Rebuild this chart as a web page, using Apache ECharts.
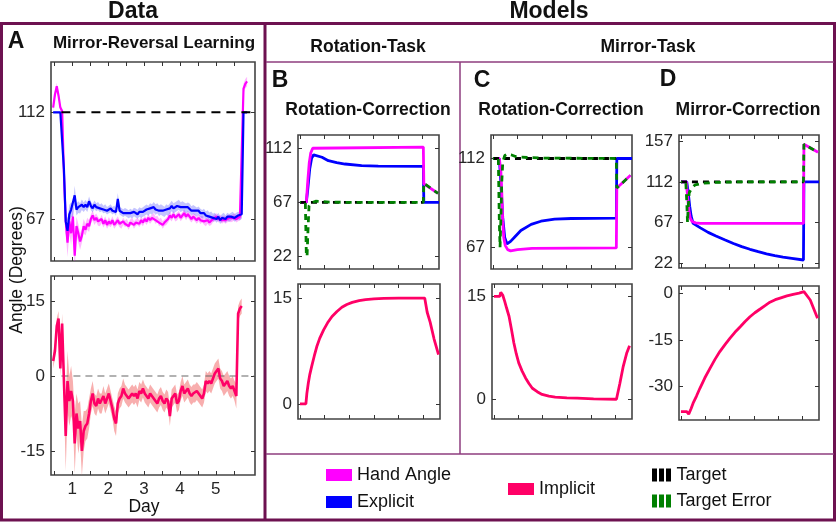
<!DOCTYPE html>
<html><head><meta charset="utf-8">
<script src="https://cdn.jsdelivr.net/npm/echarts@6/dist/echarts.min.js"></script>
<style>html,body{margin:0;padding:0;background:#fff}#chart{width:837px;height:522px}</style>
</head><body><div id="chart"></div>
<script>
// ---------- Panel A (data) ----------
const daysA = [0.47,0.52,0.57,0.62,0.67,0.72,0.77,0.82,0.87,0.92,
0.97,1.02,1.07,1.12,1.17,1.22,1.27,1.32,1.37,1.42,
1.47,1.52,1.57,1.62,1.67,1.72,1.77,1.82,1.87,1.92,
1.97,2.02,2.07,2.12,2.17,2.22,2.27,2.32,2.37,2.42,
2.47,2.52,2.57,2.62,2.67,2.72,2.77,2.82,2.87,2.92,
2.97,3.02,3.07,3.12,3.17,3.22,3.27,3.32,3.37,3.42,
3.47,3.52,3.57,3.62,3.67,3.72,3.77,3.82,3.87,3.92,
3.97,4.02,4.07,4.12,4.17,4.22,4.27,4.32,4.37,4.42,
4.47,4.52,4.57,4.62,4.67,4.72,4.77,4.82,4.87,4.92,
4.97,5.02,5.07,5.12,5.17,5.22,5.27,5.32,5.37,5.42,
5.47,5.52,5.57,5.62,5.67,5.72,5.77,5.82,5.87];
const handA = [114,119.5,123,119,114,112.5,86,66,57,66,
61,68,51.5,64,61,57.5,60,64,62.5,65,
64,67,68.5,66.5,67.5,66,65.5,67,65,66.5,
64.5,66,65,66.5,64.5,65.5,66.5,65,64.5,66,
65,65.5,64,65.5,66,64.5,65.5,66,65,66.5,
65.5,67,66,67.5,66.5,67.5,68,66.5,67,65.5,
66,64.5,65.5,66,67,68.5,67.5,69,67.5,68,
69,67.5,68.5,69.5,68,69,68,67,68,67.5,
66.5,67.5,66.5,67,66,65.5,66.5,65.5,66,67,
67.5,68,67,67.5,66.5,67,66.5,67,67.5,67,
67.5,68,67,67.5,68,68.5,122,124,125];
const handErrA = [1.5,1.5,1.5,1.5,1.2,1,3,5,6,5,
5,4,6,4,4,3.5,3,3,2.5,2.5,
2.5,2,2,2,1.8,1.8,1.6,1.8,1.6,1.7,
1.6,1.8,1.5,1.7,1.6,1.5,1.7,1.5,1.6,1.5,
1.4,1.6,1.5,1.4,1.5,1.6,1.4,1.5,1.4,1.6,
1.5,1.4,1.5,1.6,1.5,1.4,1.5,1.6,1.4,1.5,
1.5,1.6,1.4,1.5,1.5,1.6,1.5,1.4,1.5,1.6,
1.5,1.4,1.5,1.6,1.5,1.4,1.5,1.5,1.4,1.5,
1.5,1.4,1.6,1.5,1.4,1.5,1.5,1.4,1.5,1.4,
1.5,1.4,1.5,1.4,1.5,1.4,1.5,1.4,1.5,1.4,
1.5,1.4,1.5,1.4,1.5,1.5,2,2,2];
const explicitA = [112,112,112,112,112,112,88,66,62,69,
71,70.5,77,71,72,71.5,73,72,73,72,
74.5,72.5,71.5,73,72,72.5,71.5,72,71,71.5,
70.5,71,71.5,70.5,71,70,75.5,70.5,70,69.5,
70,69.5,69,69.5,69,70,69.5,69,70,69.5,
70,70.5,71,70.5,71.5,71,72,71,71.5,70.5,
71,70.5,70,71,70.5,71.5,72.5,71.5,72,72.5,
73,72,72.5,72,71.5,72,71.5,70.5,71,70.5,
70,70.5,69.5,69,69.5,68.5,69,68,68.5,67.5,
68,67,68,66.5,67.5,68,67,68,67.5,68,
68.5,67.5,68,68.5,68,69,112,112,112];
const explicitErrA = [0.3,0.3,0.3,0.3,0.3,0.3,4,5,5,4,
3,3,4,2.5,2.5,2.2,2.2,2,2,2,
2,1.8,1.8,1.8,1.7,1.7,1.6,1.7,1.6,1.7,
1.6,1.6,1.7,1.6,1.6,1.6,2.5,1.6,1.6,1.6,
1.6,1.7,1.7,1.8,1.8,1.8,1.9,1.9,2,2,
2,2.1,2.1,2.1,2.2,2.2,2.2,2.2,2.2,2.2,
2.2,2.2,2.2,2.2,2.2,2.2,2.2,2.2,2.1,2.1,
2.1,2.1,2,2,2,2,2,1.9,1.9,1.9,
1.9,1.8,1.8,1.8,1.8,1.7,1.7,1.7,1.7,1.7,
1.6,1.6,1.6,1.6,1.6,1.6,1.6,1.6,1.6,1.6,
1.6,1.6,1.6,1.6,1.6,1.6,0.3,0.3,0.3];
const implicitA = [3,5,10,11.5,1.5,10.5,-1,-12,-1,-5,
-3,-5,-13.5,-7.5,-10.5,-9,-15,-11,-10,-9.5,
-7.5,-5,-3.5,-5.5,-6,-4.5,-5.5,-5.5,-4,-5.5,
-4.5,-3.5,-5,-6.5,-8.5,-9.5,-5.5,-4.5,-4,-2.5,
-3.5,-4,-4.5,-4,-3.5,-4,-3.5,-4.5,-3,-3.5,
-2.5,-3.5,-4,-4.5,-3.5,-4,-4.5,-5,-5.5,-4.5,
-4,-5,-5.5,-4.5,-5,-8,-4.5,-4,-3.5,-5.5,
-5,-3,-2,-3.5,-3,-2.5,-3.5,-4,-3.5,-3.5,
-3,-3.5,-4,-4.5,-3.5,-1,-1.5,-1,-1.5,-0.5,
0.5,1,1.5,-0.5,-1,-2,-1.5,-1,-2,-2.5,
-2,-3,-4,12.5,13.5,14];
const implicitErrA = [1.5,1.5,1.5,1.5,1.5,2,4,7,6,5,
5,4,6,4,5,4,5,4,3,3,
3,2.5,2.5,2,2,2,2,2,2,2,
2,2,2,2,2.5,2.5,2,2,2,2,
1.8,1.8,1.8,1.8,1.8,1.8,1.8,1.8,1.8,1.8,
1.8,1.8,1.8,1.8,1.8,1.8,1.8,1.8,1.8,1.8,
1.8,1.8,1.8,1.8,1.8,2,1.8,1.8,1.8,1.8,
1.8,1.8,2,1.8,1.8,1.8,1.8,1.8,1.8,1.8,
1.8,1.8,1.8,1.8,1.8,2,2,2,2,2,
2,2,2,2,2,2,2,2,2,2,
2,2,2.5,1.5,1.5,1.5];
const targetA = [[0.70,112],[6.09,112]];
const zeroA = [[0.70,0],[6.09,0]];
const dayTicks = [0.5,1,1.5,2,2.5,3,3.5,4,4.5,5,5.5];
const dayLabels = [1,2,3,4,5];

// ---------- Panel B (rotation task, rotation-correction) ----------
const bTarget = [[0,67],[252,67]];
const bHand = [[0,67],[13,67],[16,85],[19,100],[22,108],[26,112],[30,113],[252,113],[253,82.5],[282,74.5]];
const bExplicit = [[0,67],[13,67],[16,78],[20,95],[24,104],[28,106.5],[31,107],[45,104.5],[58,101.7],[75,100],[92,98.9],[126,97.5],[160,97.2],[252,97],[253,67],[284,67]];
const bError = [[0,67],[11,67],[13,24],[14.5,22],[16,40],[18.5,64],[22,66.5],[32,68],[60,67.3],[100,67],[252,67],[253,83],[282,74.5]];
const bImplicit = [[0,0],[12,0],[14,1.5],[17,3],[20,4.2],[24,5.4],[29,6.8],[34,8.1],[40,9.3],[48,10.5],[56,11.5],[65,12.4],[75,13.1],[85,13.7],[95,14.1],[106,14.4],[120,14.65],[133,14.8],[150,14.9],[170,14.95],[200,15],[253,15],[258,13],[264,11.6],[272,9.2],[281,7]];

// ---------- Panel C (mirror task, rotation-correction) ----------
const cTarget = [[0,112],[252,112]];
const cHand = [[0,112],[13,112],[16,106],[18,95],[20,80],[22,72],[25,68],[30,65.8],[36,65.2],[50,65.8],[80,66.5],[252,66.7],[253,97],[281,103.5]];
const cExplicit = [[0,112],[13,112],[16,100],[20,82],[24,72],[28.7,68.7],[36,70],[44,72.1],[57,75.5],[78,78.6],[98,80.2],[126,81.3],[160,81.6],[252,81.8],[253,112],[284,112]];
const cError = [[0,112],[11,112],[13,80],[14.5,67],[16,80],[18,100],[20,110],[24,113.5],[30,114.3],[38,113.8],[46,113],[55,112.8],[70,112.5],[100,112.2],[252,112],[253,97],[281,103.5]];
const cImplicit = [[0,15],[12,15],[14,15.6],[16,15.8],[18,15.2],[22,14.3],[26,13.3],[31,12.1],[36,10.2],[41,8.2],[46,6.6],[51,5.3],[58,4.1],[65,3.1],[72,2.3],[79,1.6],[89,1.1],[99,0.7],[113,0.45],[126,0.3],[150,0.2],[171,0.15],[205,0.05],[252,0],[259,2.3],[266,4.8],[273,6.7],[279,7.8]];

// ---------- Panel D (mirror task, mirror-correction) ----------
const dTarget = [[0,112],[252,112]];
const dHand = [[0,112],[11,112],[13,100],[15,88],[17,78],[19,72],[23,68],[30,66.5],[40,66],[252,66],[253,154],[282,145]];
const dExplicit = [[0,112],[12,112],[15,100],[18,85],[21,74],[25,66],[40,61],[56,56],[72,52],[91,47.6],[108,43.7],[125,40.1],[142,37.2],[159,34.6],[176,32.2],[193,30.1],[210,28.6],[228,27.2],[252,25.3],[253,112],[284,112]];
const dError = [[0,112],[10,112],[12,90],[13.5,67],[15,85],[17,100],[22,105],[29,108.7],[43,110.5],[70,111.5],[110,112],[252,112],[253,154],[282,145]];
const dImplicit = [[0,-38],[12,-38],[14,-38.5],[16,-38.8],[18,-38.3],[21,-37],[25,-35.3],[32,-33],[39,-30.5],[49,-27.2],[60,-24],[70,-21.2],[80,-18.7],[91,-16.4],[101,-14.4],[111,-12.5],[122,-10.7],[132,-9],[142,-7.5],[152,-6.2],[163,-5],[173,-3.9],[183,-2.8],[194,-2],[204,-1.5],[218,-0.8],[231,-0.3],[243,0.1],[253,0.6],[266,-2.1],[281,-8]];
const trialTicks = [0,50,100,150,200,250];

// ---------- style ----------
const FONT = '"Liberation Sans", Arial, Helvetica, sans-serif';
const C_HAND = '#ff00ff', C_EXP = '#0000ff', C_IMP = '#ff0066', C_TGT = '#000000', C_ERR = '#008000';
const PURPLE = '#6d1150', PURPLE2 = '#8e3c7e';

const chart = echarts.init(document.getElementById('chart'), null, {renderer: 'canvas'});

const gridBoxes = [
  {left: 51, top: 62, width: 204, height: 199},   // A top
  {left: 51, top: 276, width: 204, height: 199},  // A bottom
  {left: 298, top: 135, width: 141, height: 134}, // B top
  {left: 298, top: 284, width: 142, height: 135}, // B bottom
  {left: 491, top: 135, width: 141, height: 134}, // C top
  {left: 492, top: 284, width: 140, height: 135}, // C bottom
  {left: 679, top: 135, width: 140, height: 133}, // D top
  {left: 679, top: 286, width: 140, height: 134}  // D bottom
];
const grid = gridBoxes.map(g => Object.assign({show: true, borderColor: '#444', borderWidth: 1.6, backgroundColor: 'transparent', containLabel: false, outerBoundsMode: 'none'}, g));

const xDefs = [
  {min: 0.41, max: 6.09, ticks: dayTicks, labels: null},
  {min: 0.41, max: 6.09, ticks: dayTicks, labels: dayLabels},
  {min: -4, max: 284, ticks: trialTicks, labels: null},
  {min: -4, max: 284, ticks: trialTicks, labels: null},
  {min: -4, max: 284, ticks: trialTicks, labels: null},
  {min: -4, max: 284, ticks: trialTicks, labels: null},
  {min: -4, max: 284, ticks: trialTicks, labels: null},
  {min: -4, max: 284, ticks: trialTicks, labels: null}
];
const yDefs = [
  {min: 49.3, max: 133.2, ticks: [67, 112]},
  {min: -19.8, max: 20, ticks: [-15, 0, 15]},
  {min: 11.7, max: 123, ticks: [22, 67, 112]},
  {min: -2.13, max: 17, ticks: [0, 15]},
  {min: 56, max: 123.9, ticks: [67, 112]},
  {min: -2.88, max: 16.8, ticks: [0, 15]},
  {min: 16.4, max: 164.2, ticks: [22, 67, 112, 157]},
  {min: -40.7, max: 2.4, ticks: [-30, -15, 0]}
];
const tickStyle = ticks => ({show: true, inside: true, length: 4, lineStyle: {color: '#333', width: 1}, customValues: ticks});
const labelStyle = vals => vals ? {show: true, customValues: vals, margin: 6, color: '#262626', fontSize: 17, fontFamily: FONT} : {show: false};

const xAxis = [], yAxis = [];
xDefs.forEach((d, gi) => {
  ['bottom', 'top'].forEach((pos, k) => {
    xAxis.push({type: 'value', gridIndex: gi, position: pos, min: d.min, max: d.max,
      axisLine: {show: false, onZero: false}, splitLine: {show: false},
      axisTick: tickStyle(d.ticks), axisLabel: labelStyle(k === 0 ? d.labels : null)});
  });
});
yDefs.forEach((d, gi) => {
  ['left', 'right'].forEach((pos, k) => {
    yAxis.push({type: 'value', gridIndex: gi, position: pos, min: d.min, max: d.max,
      axisLine: {show: false, onZero: false}, splitLine: {show: false},
      axisTick: tickStyle(d.ticks), axisLabel: labelStyle(k === 0 ? d.ticks : null)});
  });
});

function line(name, gi, data, color, width, dash, extra) {
  return Object.assign({type: 'line', name, xAxisIndex: 2 * gi, yAxisIndex: 2 * gi, data,
    showSymbol: false, symbol: 'none', silent: true, animation: false,
    lineStyle: {color, width, type: dash || 'solid', cap: 'butt'}, itemStyle: {color}}, extra || {});
}
// shaded error band: polygon through mean+err and mean-err, placed with the axes' own coordinate mapping
function band(gi, xs, mean, err, color) {
  return {type: 'custom', name: 'band', xAxisIndex: 2 * gi, yAxisIndex: 2 * gi, silent: true, animation: false, clip: true,
    data: [[xs[0], mean[0]]],
    renderItem: (params, api) => {
      const pts = [];
      for (let i = 0; i < mean.length; i++) pts.push(api.coord([xs[i], mean[i] + err[i]]));
      for (let i = mean.length - 1; i >= 0; i--) pts.push(api.coord([xs[i], mean[i] - err[i]]));
      return {type: 'polygon', shape: {points: pts}, style: {fill: color}};
    }};
}
const pairs = (xs, ys) => ys.map((y, i) => [xs[i], y]);

const series = [];
// Panel A top
series.push(band(0, daysA, handA, handErrA, 'rgba(255,0,255,0.28)'));
series.push(band(0, daysA, explicitA, explicitErrA, 'rgba(60,60,255,0.30)'));
series.push(line('Hand Angle', 0, pairs(daysA, handA), C_HAND, 2.2));
series.push(line('Explicit', 0, pairs(daysA, explicitA), C_EXP, 2.2));
series.push(line('Target', 0, targetA, C_TGT, 2, [9, 6]));
// Panel A bottom
series.push(line('zeroLine', 1, zeroA, '#666', 1.2, [7, 5]));
series.push(band(1, daysA, implicitA, implicitErrA, 'rgba(244,120,120,0.6)'));
series.push(line('Implicit', 1, pairs(daysA, implicitA), C_IMP, 2.6));
// Models
[[2, bTarget, bHand, bExplicit, bError, 3, bImplicit],
 [4, cTarget, cHand, cExplicit, cError, 5, cImplicit],
 [6, dTarget, dHand, dExplicit, dError, 7, dImplicit]].forEach(([gi, tg, hd, ex, er, gi2, im]) => {
  series.push(line('Explicit', gi, ex, C_EXP, 2.8));
  series.push(line('Hand Angle', gi, hd, C_HAND, 2.8));
  series.push(line('Target', gi, tg, C_TGT, 2.8, [6, 5]));
  series.push(line('Target Error', gi, er, C_ERR, 2.8, [6, 5], {lineStyle: {color: C_ERR, width: 2.8, type: [6, 5], dashOffset: 5}}));
  series.push(line('Implicit', gi2, im, C_IMP, 2.8));
});

const legendBase = {orient: 'horizontal', padding: 0, itemGap: 5, selectedMode: false,
  textStyle: {fontSize: 18, color: '#111', fontFamily: FONT}, itemStyle: {borderWidth: 0}};
const stripes = 'path://M0,0h5v13h-5z M7,0h5v13h-5z M14,0h5v13h-5z';
const legend = [
  Object.assign({}, legendBase, {left: 326, top: 466, itemWidth: 26, itemHeight: 12, data: [{name: 'Hand Angle', icon: 'rect', itemStyle: {color: C_HAND}}]}),
  Object.assign({}, legendBase, {left: 326, top: 493, itemWidth: 26, itemHeight: 12, data: [{name: 'Explicit', icon: 'rect', itemStyle: {color: C_EXP}}]}),
  Object.assign({}, legendBase, {left: 508, top: 480, itemWidth: 26, itemHeight: 12, data: [{name: 'Implicit', icon: 'rect', itemStyle: {color: C_IMP}}]}),
  Object.assign({}, legendBase, {left: 652, top: 466, itemWidth: 20, itemHeight: 13, data: [{name: 'Target', icon: stripes, itemStyle: {color: C_TGT}}]}),
  Object.assign({}, legendBase, {left: 652, top: 492, itemWidth: 20, itemHeight: 13, data: [{name: 'Target Error', icon: stripes, itemStyle: {color: C_ERR}}]})
];

function txt(text, x, y, size, bold, extra) {
  return Object.assign({type: 'text', x, y, silent: true,
    style: {text, fill: '#111', font: (bold ? 'bold ' : '') + size + 'px ' + FONT, align: 'center', verticalAlign: 'middle'}}, extra || {});
}
function ln(x1, y1, x2, y2, color, w) {
  return {type: 'line', silent: true, shape: {x1, y1, x2, y2}, style: {stroke: color, lineWidth: w}};
}
const graphic = [
  {type: 'rect', silent: true, shape: {x: 1.5, y: 23.5, width: 833, height: 496.5}, style: {fill: 'none', stroke: PURPLE, lineWidth: 3}},
  ln(265, 23, 265, 520, PURPLE, 3),
  ln(266, 62, 834, 62, PURPLE2, 1.5),
  ln(460, 62, 460, 454, PURPLE2, 1.5),
  ln(266, 454, 834, 454, PURPLE2, 1.5),
  txt('Data', 133, 12, 23, true),
  txt('Models', 549, 12, 23, true),
  txt('A', 16, 42, 23, true),
  txt('Mirror-Reversal Learning', 154, 43, 17, true),
  txt('Rotation-Task', 368, 47, 17.5, true),
  txt('Mirror-Task', 648, 47, 17.5, true),
  txt('B', 280, 81, 23, true),
  txt('C', 482, 81, 23, true),
  txt('D', 668, 80, 23, true),
  txt('Rotation-Correction', 368, 110, 17.5, true),
  txt('Rotation-Correction', 561, 110, 17.5, true),
  txt('Mirror-Correction', 748, 110, 17.5, true),
  txt('Angle (Degrees)', 17, 270, 17.5, false, {rotation: Math.PI / 2}),
  txt('Day', 144, 507, 17.5, false)
];

chart.setOption({
  animation: false,
  backgroundColor: '#ffffff',
  textStyle: {fontFamily: FONT},
  grid, xAxis, yAxis, series, legend, graphic
});
</script></body></html>
